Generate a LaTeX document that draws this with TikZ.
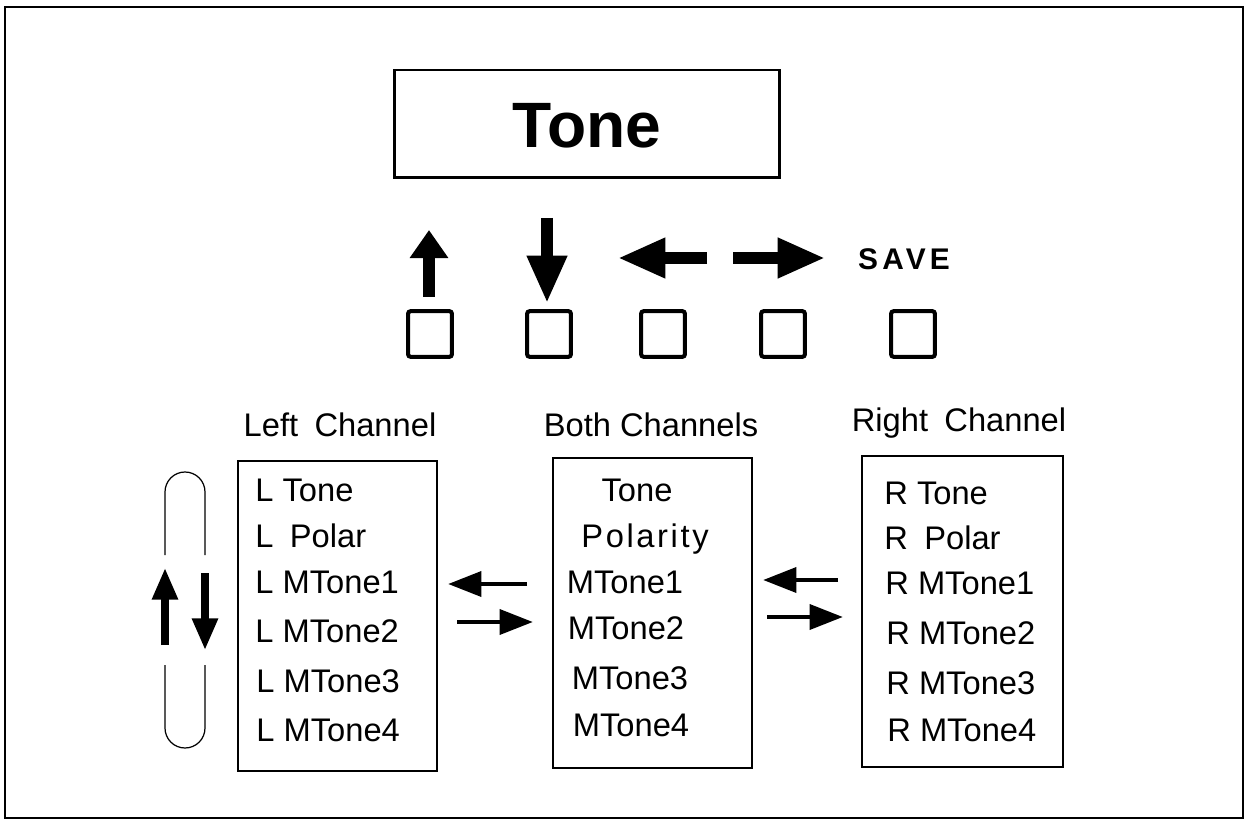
\documentclass[tikz,border=0pt]{standalone}
\usepackage{fontspec}
\setmainfont{Liberation Sans}
\usetikzlibrary{arrows.meta}

\begin{document}
\begin{tikzpicture}[x=0.02cm,y=-0.02cm,
        txt/.style={inner sep=0,text height=13.3pt,text depth=0pt,font=\fontsize{18.6}{20}\selectfont},
        item/.style={txt,anchor=west},
        chanbox/.style={draw,line width=1.1pt},
        btn/.style={draw,line width=2.3pt,rounded corners=1.5pt,minimum width=25pt,minimum height=26pt,inner sep=0},
        bigarrow/.style={line width=6.3pt,-{Triangle[length=27pt,width=21.5pt]}},
        smallarrow/.style={line width=2.8pt,-{Triangle[length=19pt,width=14pt]}},
        looparrow/.style={line width=4pt,-{Triangle[length=18pt,width=14pt]}}]
        \useasboundingbox (0,0) rectangle (1246,820);
        % outer frame
        \draw[line width=0.8pt] (5,7) rectangle (1243,818);
        % title
        \node[draw,line width=1.7pt,minimum width=7.72cm,minimum height=2.16cm,inner sep=0] (title) at (587,124) {};
        \node[inner sep=0,text height=26pt,text depth=0pt,font=\fontsize{36.5}{40}\bfseries] (titletext) at (587,125) {Tone};
        % buttons
        \node[btn] (bup) at (430,334) {};
        \node[btn] (bdown) at (549,334) {};
        \node[btn] (bleft) at (663,334) {};
        \node[btn] (bright) at (783,334) {};
        \node[btn] (bsave) at (913,334) {};
        \coordinate (upa) at (429,297);   \coordinate (upb) at (429,230);
        \coordinate (dna) at (547,218);   \coordinate (dnb) at (547,303);
        \coordinate (lfa) at (707,258);   \coordinate (lfb) at (618,258);
        \coordinate (rta) at (733,258);   \coordinate (rtb) at (825,258);
        \draw[bigarrow,-{Triangle[length=16pt,width=21pt]}] (upa) -- (upb);
        \draw[bigarrow] (dna) -- (dnb);
        \draw[bigarrow] (lfa) -- (lfb);
        \draw[bigarrow] (rta) -- (rtb);
        \node[txt,font=\fontsize{17}{20}\bfseries\addfontfeature{LetterSpace=14}] (save) at (904,258) {SAVE};
        % channel headings
        \node[txt] (lhead) at (340,425) {Left\enspace Channel};
        \node[txt] (bhead) at (651,425) {Both Channels};
        \node[txt] (rhead) at (959,420) {Right\enspace Channel};
        % channel boxes
        \draw[chanbox] (238,461) rectangle (437,771);
        \draw[chanbox] (553,458) rectangle (752,768);
        \draw[chanbox] (862,456) rectangle (1063,767);
        \node[item] (l1) at (255,490) {L Tone};
        \node[item] (l2) at (255,536) {L\enspace Polar};
        \node[item] (l3) at (255,582) {L MTone1};
        \node[item] (l4) at (255,631) {L MTone2};
        \node[item] (l5) at (256,681) {L MTone3};
        \node[item] (l6) at (256,730) {L MTone4};
        \node[txt] (b1) at (637,490) {Tone};
        \node[txt,font=\fontsize{18.6}{20}\selectfont\addfontfeature{LetterSpace=8}] (b2) at (645,536) {Polarity};
        \node[txt] (b3) at (625,582) {MTone1};
        \node[txt] (b4) at (626,628) {MTone2};
        \node[txt] (b5) at (630,678) {MTone3};
        \node[txt] (b6) at (631,725) {MTone4};
        \node[item] (r1) at (884,493) {R Tone};
        \node[item] (r2) at (884,538) {R\enspace Polar};
        \node[item] (r3) at (885,583) {R MTone1};
        \node[item] (r4) at (886,633) {R MTone2};
        \node[item] (r5) at (886,683) {R MTone3};
        \node[item] (r6) at (887,730) {R MTone4};
        % arrows between boxes
        \coordinate (lba) at (527,584); \coordinate (lbb) at (448,584);
        \coordinate (lbc) at (457,622); \coordinate (lbd) at (533,622);
        \coordinate (bra) at (838,580); \coordinate (brb) at (763,580);
        \coordinate (brc) at (767,617); \coordinate (brd) at (843,617);
        \draw[smallarrow] (lba) -- (lbb);
        \draw[smallarrow] (lbc) -- (lbd);
        \draw[smallarrow] (bra) -- (brb);
        \draw[smallarrow] (brc) -- (brd);
        % scroll loop
        \draw[line width=0.7pt] (165,555) -- (165,492) arc[start angle=180,end angle=360,radius=20] -- (205,555);
        \draw[line width=0.7pt] (165,665) -- (165,728) arc[start angle=180,end angle=0,radius=20] -- (205,665);
        \coordinate (lpa) at (165,645); \coordinate (lpb) at (165,568);
        \coordinate (lpc) at (205,573); \coordinate (lpd) at (205,650);
        \draw[looparrow] (lpa) -- (lpb);
        \draw[looparrow] (lpc) -- (lpd);
\end{tikzpicture}
\end{document}
